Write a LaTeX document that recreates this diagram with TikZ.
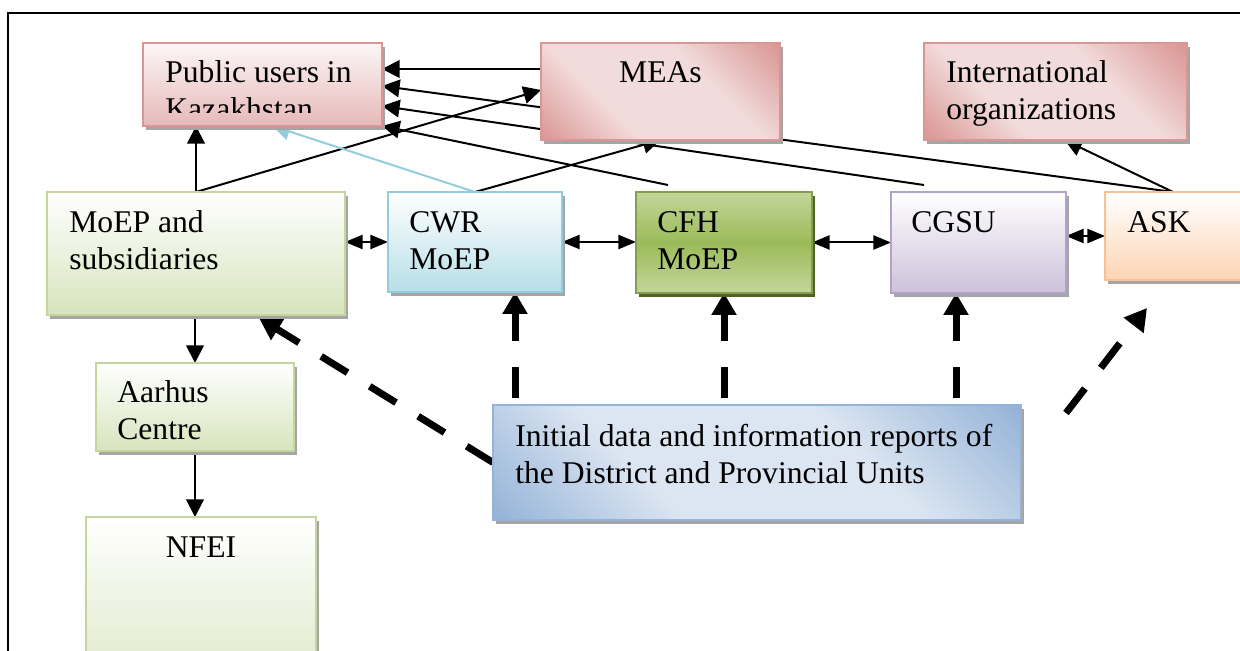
\documentclass[tikz,border=0pt]{standalone}
\usepackage{fontspec}
\setmainfont{Liberation Serif}
\usetikzlibrary{arrows.meta,calc,shadows}
\newlength\pxu
\setlength\pxu{0.02cm}
\definecolor{redL}{HTML}{F2DCDB}
\definecolor{redM}{HTML}{E6B9B8}
\definecolor{redD}{HTML}{D99694}
\definecolor{grnM}{HTML}{D7E4BD}
\definecolor{grnD}{HTML}{C3D69B}
\definecolor{grnA}{HTML}{9BBB59}
\definecolor{grnS}{HTML}{4F6228}
\definecolor{aquM}{HTML}{B7DEE8}
\definecolor{aquD}{HTML}{93CDDD}
\definecolor{purM}{HTML}{CCC1DA}
\definecolor{purD}{HTML}{B3A2C7}
\definecolor{orgM}{HTML}{FCD5B5}
\definecolor{orgD}{HTML}{FAC090}
\definecolor{bluL}{HTML}{DCE6F2}
\definecolor{bluD}{HTML}{95B3D7}
\definecolor{shd}{HTML}{A5A5A5}
\pgfdeclareverticalshading{diagred}{100bp}{color(0bp)=(redD); color(15bp)=(redD); color(36bp)=(redL); color(62bp)=(redL); color(85bp)=(redD); color(100bp)=(redD)}
\pgfdeclareverticalshading{diagblue}{100bp}{color(0bp)=(bluD); color(15bp)=(bluD); color(36bp)=(bluL); color(62bp)=(bluL); color(85bp)=(bluD); color(100bp)=(bluD)}
\pgfdeclarelayer{bg}
\pgfsetlayers{bg,main}
\tikzset{
  box/.style={draw, line width=2\pxu, anchor=north west, inner sep=0pt, outer sep=0pt},
  shad/.style={drop shadow={shadow xshift=3\pxu, shadow yshift=-4\pxu, fill=#1, opacity=1}},
  shad/.default=shd,
  vgrad/.style 2 args={top color=#1, bottom color=#2},
  dgrad/.style={shade, shading=#1, shading angle=-45},
  txt/.style={anchor=base west, inner sep=0pt, font=\fontsize{18}{21}\selectfont},
  arr/.style={draw, line width=2\pxu, -{Triangle[length=10pt, width=10pt]}},
  darr/.style={draw, line width=2\pxu, {Triangle[length=10pt, width=8pt]}-{Triangle[length=10pt, width=8pt]}},
  dsh/.style={draw, line width=7\pxu, dash pattern=on 31\pxu off 26\pxu, -{Triangle[length=12.5pt, width=13.6pt]}},
}
\newcommand\twol[2]{\begin{tabular}[t]{@{}l@{}}#1\\#2\end{tabular}}
\begin{document}
\begin{tikzpicture}[x=0.02cm, y=-0.02cm]
\useasboundingbox (0,0) rectangle (1240,651);
\clip (0,0) rectangle (1240,651);
% boxes
\node[box, draw=redD, vgrad={redL!25}{redM}, shad, minimum width=239\pxu, minimum height=83\pxu] (pub) at (143,43) {};
\node[box, draw=redD, dgrad=diagred, shad, minimum width=239\pxu, minimum height=97\pxu] (meas) at (541,43) {};
\node[box, draw=redD, dgrad=diagred, shad, minimum width=263\pxu, minimum height=97\pxu] (intl) at (924,43) {};
\node[box, draw=grnD, vgrad={white}{grnM}, shad, minimum width=298\pxu, minimum height=123\pxu] (moep) at (47,192) {};
\node[box, draw=aquD, vgrad={white}{aquM}, shad, minimum width=174\pxu, minimum height=100\pxu] (cwr) at (388,192) {};
\node[box, draw=grnA!85!black, top color=grnD, bottom color=grnD, middle color=grnA, shad=grnS, minimum width=176\pxu, minimum height=101\pxu] (cfh) at (636,192) {};
\node[box, draw=purD, vgrad={white}{purM}, shad, minimum width=175\pxu, minimum height=101\pxu] (cgsu) at (891,192) {};
\node[box, draw=orgD, vgrad={white}{orgM}, shad, minimum width=175\pxu, minimum height=88\pxu] (ask) at (1105,192) {};
\node[box, draw=grnD, vgrad={white}{grnM}, shad, minimum width=198\pxu, minimum height=88\pxu] (aarhus) at (96,363) {};
\node[box, draw=grnD, vgrad={white}{grnM}, shad, minimum width=230\pxu, minimum height=200\pxu] (nfei) at (86,517) {};
\node[box, draw=bluD, dgrad=diagblue, shad, minimum width=528\pxu, minimum height=115\pxu] (init) at (493,405) {};
% texts
\begin{scope}
\clip (pub.north west) rectangle ([yshift=13\pxu]pub.south east);
\node[txt] (pub-t) at ([xshift=22\pxu, yshift=-40\pxu]pub.north west) {\twol{Public users in}{Kazakhstan}};
\end{scope}
\node[txt, anchor=base] (meas-t) at ([yshift=-40\pxu]meas.north) {MEAs};
\node[txt] (intl-t) at ([xshift=22\pxu, yshift=-40\pxu]intl.north west) {\twol{International}{organizations}};
\node[txt] (moep-t) at ([xshift=22\pxu, yshift=-41\pxu]moep.north west) {\twol{MoEP and}{subsidiaries}};
\node[txt] (cwr-t) at ([xshift=21\pxu, yshift=-41\pxu]cwr.north west) {\twol{CWR}{MoEP}};
\node[txt] (cfh-t) at ([xshift=21\pxu, yshift=-41\pxu]cfh.north west) {\twol{CFH}{MoEP}};
\node[txt] (cgsu-t) at ([xshift=20\pxu, yshift=-41\pxu]cgsu.north west) {CGSU};
\node[txt] (ask-t) at ([xshift=22\pxu, yshift=-41\pxu]ask.north west) {ASK};
\node[txt] (aarhus-t) at ([xshift=21\pxu, yshift=-40\pxu]aarhus.north west) {\twol{Aarhus}{Centre}};
\node[txt, anchor=base] (nfei-t) at ([yshift=-40\pxu]nfei.north) {NFEI};
\node[txt] (init-t) at ([xshift=22\pxu, yshift=-42\pxu]init.north west) {\twol{Initial data and information reports of}{the District and Provincial Units}};
% connectors
\begin{pgfonlayer}{bg}
\draw[line width=2\pxu] (1240,13) -- (8,13) -- (8,651);
\draw[arr] ([yshift=-26\pxu]meas.north west) -- ([yshift=-26\pxu]pub.north east);
\draw[arr] (moep.north) -- ([yshift=-47\pxu]meas.north west);
\draw[arr] (moep.north) -- (moep.north |- pub.south);
\draw[arr, draw=aquD] (cwr.north) -- ([xshift=10\pxu]pub.south);
\draw[arr] (cwr.north) -- (meas.south);
\draw[arr] ([xshift=32\pxu, yshift=7\pxu]cfh.north west) -- (pub.south east);
\draw[arr] ([xshift=33\pxu, yshift=7\pxu]cgsu.north west) -- ([yshift=20\pxu]pub.south east);
\draw[arr] ([xshift=68\pxu]ask.north west) -- ([yshift=-43\pxu]pub.north east);
\draw[arr] ([xshift=68\pxu]ask.north west) -- ([xshift=9\pxu]intl.south);
\draw[darr] (cwr.west -| moep.east) -- (cwr.west);
\draw[darr] (cwr.east) -- (cwr.east -| cfh.west);
\draw[darr] (cfh.east) -- (cfh.east -| cgsu.west);
\draw[darr] (ask.west -| cgsu.east) -- (ask.west);
\draw[arr] (aarhus.north |- moep.south) -- (aarhus.north);
\draw[arr] (aarhus.south) -- (aarhus.south |- nfei.north);
\draw[dsh] (init.west) -- ([xshift=212\pxu, yshift=-3\pxu]moep.south west);
\coordinate (c1) at ([xshift=-47\pxu]cwr.south east);
\draw[dsh, shorten <=7\pxu] (c1 |- init.north) -- (c1);
\draw[dsh, shorten <=7\pxu] (cfh.south |- init.north) -- (cfh.south);
\coordinate (c3) at ([xshift=65\pxu]cgsu.south west);
\draw[dsh, shorten <=7\pxu] (c3 |- init.north) -- (c3);
\coordinate (askfrom) at ([xshift=45\pxu, yshift=-8\pxu]init.north east);
\draw[dsh] (askfrom) -- ([xshift=42\pxu, yshift=-28\pxu]ask.south west);
\end{pgfonlayer}
\end{tikzpicture}
\end{document}
